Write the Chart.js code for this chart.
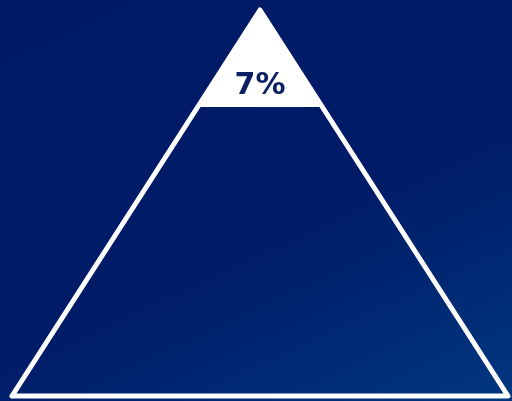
<!DOCTYPE html>
<html>
<head>
<meta charset="utf-8">
<script src="https://cdn.jsdelivr.net/npm/chart.js@4"></script>
<style>
  html, body { margin: 0; padding: 0; }
  body {
    width: 512px; height: 401px; overflow: hidden;
    background: linear-gradient(155deg, #001a66 0%, #001b67 55%, #00377f 100%);
  }
  #wrap { width: 512px; height: 401px; }
</style>
</head>
<body>
<div id="wrap"><canvas id="pyramid"></canvas></div>
<script>
// share shown at the top of the pyramid (percent of area)
const shareLabels = ['7%'];
const shareValues = [7];

// pyramid outline in unit coordinates: base left, apex, base right
const outlineX = [0, 0.5, 1, 0];
const outlineY = [0, 1, 0, 0];

document.addEventListener('DOMContentLoaded', function() {
    const ctx = document.getElementById('pyramid');

    // height of the top slice from its area share (small inset for the stroke)
    const frac = Math.sqrt(shareValues[0] / 100) * 0.95;
    const level = 1 - frac;
    const half = frac / 2;
    const topX = [0.5 - half, 0.5, 0.5 + half, 0.5 - half];
    const topY = [level, 1, level, level];

    const labelPlugin = {
        id: 'shareLabel',
        afterDatasetsDraw(chart) {
            const c = chart.ctx;
            const xs = chart.scales.x, ys = chart.scales.y;
            const x = xs.getPixelForValue(0.5);
            const y = ys.getPixelForValue(level + frac * 0.22);
            c.save();
            c.fillStyle = '#0b1f63';
            c.font = 'bold 30px "DejaVu Sans", sans-serif';
            c.textAlign = 'center';
            c.textBaseline = 'middle';
            c.fillText(shareLabels[0], x, y + 1);
            c.restore();
        }
    };

    new Chart(ctx, {
        type: 'scatter',
        data: {
            datasets: [{
                data: topX.map((x, i) => ({ x: x, y: topY[i] })),
                showLine: true,
                fill: 'shape',
                backgroundColor: '#ffffff',
                borderWidth: 0,
                pointRadius: 0,
                clip: false
            }, {
                data: outlineX.map((x, i) => ({ x: x, y: outlineY[i] })),
                showLine: true,
                fill: false,
                borderColor: '#ffffff',
                borderWidth: 5,
                borderJoinStyle: 'round',
                borderCapStyle: 'round',
                pointRadius: 0,
                clip: false
            }]
        },
        options: {
            responsive: true,
            maintainAspectRatio: false,
            animation: false,
            layout: { padding: { left: 12, right: 4, top: 10, bottom: 5 } },
            plugins: { legend: { display: false }, tooltip: { enabled: false } },
            scales: {
                x: { display: false, min: 0, max: 1 },
                y: { display: false, min: 0, max: 1 }
            }
        },
        plugins: [labelPlugin]
    });
});
</script>
</body>
</html>
